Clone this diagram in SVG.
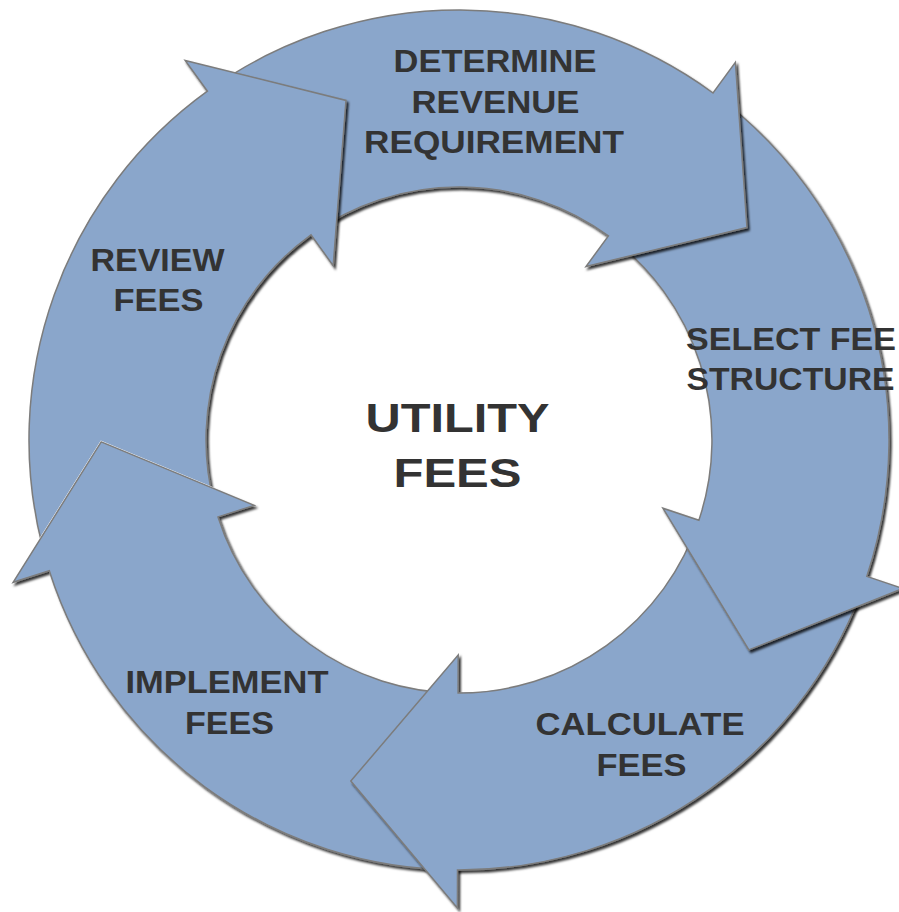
<svg xmlns="http://www.w3.org/2000/svg" width="899" height="912" viewBox="0 0 899 912">
<style>
.arrow{fill:#8aa6cb;stroke:#7c7c7c;stroke-width:1.5;stroke-linejoin:miter}
.lbl{font-family:"Liberation Sans",Arial,Helvetica,sans-serif;font-weight:bold;font-size:32px;fill:#333333;text-anchor:middle}
.big{font-size:41px}
</style>
<defs>
<filter id="sh" x="-10%" y="-10%" width="130%" height="130%">
<feDropShadow dx="2" dy="2.5" stdDeviation="1.3" flood-color="#000" flood-opacity="0.8"/>
</filter>
<clipPath id="cutImpl">
<path clip-rule="evenodd" d="M-20,-20H920V930H-20Z M10.9,583.7 L100.8,440.5 L256.8,505.3 Z"/>
</clipPath>
</defs>
<rect width="899" height="912" fill="#ffffff"/>

<g id="implement">
<path class="arrow" filter="url(#sh)" d="M457.5,870 A430,430 0 0 1 49.3,570.7 L13.1,582.3 L101.2,441.9 L254.2,505.4 L218.0,516.9 A253,253 0 0 0 458.1,693 Z"/>
<text class="lbl" x="227" y="693" textLength="203" lengthAdjust="spacingAndGlyphs">IMPLEMENT</text>
<text class="lbl" x="229.5" y="734" textLength="89" lengthAdjust="spacingAndGlyphs">FEES</text>
</g>

<g id="calculate">
<path class="arrow" filter="url(#sh)" d="M866.8,576.4 A430,430 0 0 1 457.5,870 L457.4,908 L350.8,781.1 L458.2,655 L458.1,693 A253,253 0 0 0 698.9,520.3 Z"/>
<text class="lbl" x="640" y="735" textLength="209" lengthAdjust="spacingAndGlyphs">CALCULATE</text>
<text class="lbl" x="641.5" y="776" textLength="90" lengthAdjust="spacingAndGlyphs">FEES</text>
</g>

<g id="select">
<path class="arrow" filter="url(#sh)" d="M713.0,93.0 A430,430 0 0 1 866.8,576.4 L902.9,588.5 L748.9,649.9 L662.9,508.2 L698.9,520.3 A253,253 0 0 0 608.4,235.9 Z"/>
<text class="lbl" x="791" y="350" textLength="210" lengthAdjust="spacingAndGlyphs">SELECT FEE</text>
<text class="lbl" x="790.5" y="390" textLength="208" lengthAdjust="spacingAndGlyphs">STRUCTURE</text>
</g>

<g id="determine">
<path class="arrow" filter="url(#sh)" d="M207.4,91.2 A430,430 0 0 1 713.0,93.0 L735.4,62.4 L747.0,227.6 L586.0,266.5 L608.4,235.9 A253,253 0 0 0 311.0,234.8 Z"/>
<text class="lbl" x="495" y="72" textLength="203" lengthAdjust="spacingAndGlyphs">DETERMINE</text>
<text class="lbl" x="495.5" y="113" textLength="168" lengthAdjust="spacingAndGlyphs">REVENUE</text>
<text class="lbl" x="494" y="153" textLength="260" lengthAdjust="spacingAndGlyphs">REQUIREMENT</text>
</g>

<g id="review" clip-path="url(#cutImpl)">
<path class="arrow" filter="url(#sh)" d="M43.1,549.1 A430,430 0 0 1 207.4,91.2 L185.2,60.4 L346.0,100.4 L333.2,265.6 L311.0,234.8 A253,253 0 0 0 214.3,504.2 Z"/>
<text class="lbl" x="157.5" y="271" textLength="134" lengthAdjust="spacingAndGlyphs">REVIEW</text>
<text class="lbl" x="158.5" y="311" textLength="90" lengthAdjust="spacingAndGlyphs">FEES</text>
</g>

<g id="center">
<text class="lbl big" x="457.5" y="432" textLength="184" lengthAdjust="spacingAndGlyphs">UTILITY</text>
<text class="lbl big" x="457.5" y="487" textLength="128" lengthAdjust="spacingAndGlyphs">FEES</text>
</g>
</svg>
